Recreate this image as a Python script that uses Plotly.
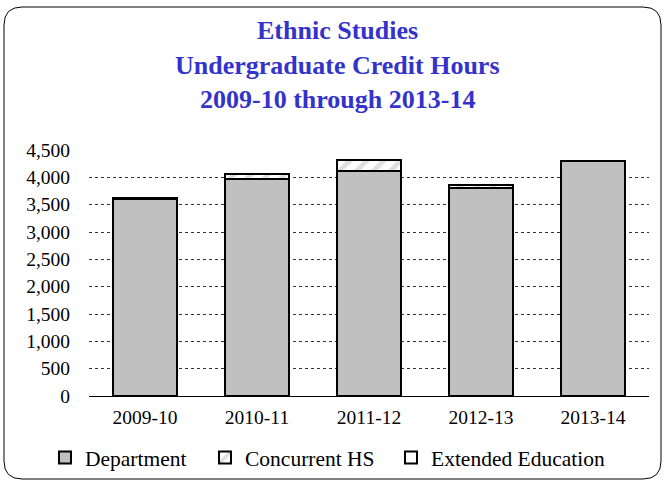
import plotly.graph_objects as go

# academic years on the x axis
years = ["2009-10", "2010-11", "2011-12", "2012-13", "2013-14"]

# credit hours by source (stacked)
department = [3600, 3965, 4115, 3810, 4295]
concurrent_hs = [15, 100, 200, 50, 0]
extended_ed = [0, 0, 0, 0, 0]

y_ticks = [0, 500, 1000, 1500, 2000, 2500, 3000, 3500, 4000, 4500]

serif = "Liberation Serif, Times New Roman, serif"

fig = go.Figure()
fig.add_trace(go.Bar(
    x=years, y=department, name="Department", legend="legend",
    marker=dict(color="#C0C0C0", line=dict(color="black", width=2)),
))
fig.add_trace(go.Bar(
    x=years, y=concurrent_hs, name="Concurrent HS", legend="legend2",
    marker=dict(color="white", line=dict(color="black", width=2),
                pattern=dict(shape="/", fgcolor="#C0C0C0", bgcolor="white",
                             size=12, solidity=0.4)),
))
fig.add_trace(go.Bar(
    x=years, y=extended_ed, name="Extended Education", legend="legend3",
    marker=dict(color="white", line=dict(color="black", width=2)),
))

# outer rounded frame, in paper coords (plot area is 560x246 px)
def px2x(p):
    return (p - 89) / 560

def py2y(p):
    return (396 - p) / 246

x0, x1, y0, y1, r = 4, 661, 7, 479, 18
frame = (
    f"M {px2x(x0 + r)},{py2y(y0)} L {px2x(x1 - r)},{py2y(y0)} "
    f"Q {px2x(x1)},{py2y(y0)} {px2x(x1)},{py2y(y0 + r)} "
    f"L {px2x(x1)},{py2y(y1 - r)} Q {px2x(x1)},{py2y(y1)} {px2x(x1 - r)},{py2y(y1)} "
    f"L {px2x(x0 + r)},{py2y(y1)} Q {px2x(x0)},{py2y(y1)} {px2x(x0)},{py2y(y1 - r)} "
    f"L {px2x(x0)},{py2y(y0 + r)} Q {px2x(x0)},{py2y(y0)} {px2x(x0 + r)},{py2y(y0)} Z"
)

def legend_at(px):
    return dict(orientation="h", x=px2x(px), xanchor="left", y=py2y(437), yanchor="top",
                bgcolor="rgba(0,0,0,0)", font=dict(family=serif, size=21.5))

fig.update_layout(
    width=664, height=481,
    margin=dict(l=89, r=15, t=150, b=85, autoexpand=False),
    paper_bgcolor="white", plot_bgcolor="white",
    barmode="stack", bargap=0.43,
    font=dict(family=serif, size=19.5, color="black"),
    shapes=[dict(type="path", path=frame, xref="paper", yref="paper",
                 line=dict(color="black", width=1), layer="below")],
    legend=legend_at(45),
    legend2=legend_at(205),
    legend3=legend_at(391),
    showlegend=True,
)

titles = ["Ethnic Studies", "Undergraduate Credit Hours", "2009-10 through 2013-14"]
title_y = [30, 65, 99]
for t, ty in zip(titles, title_y):
    fig.add_annotation(text=f"<b>{t}</b>", x=px2x(337), y=py2y(ty), xref="paper", yref="paper",
                       xanchor="center", yanchor="middle", showarrow=False,
                       font=dict(family=serif, size=26, color="#3333CC"))

fig.update_yaxes(range=[0, 4500], tickvals=y_ticks, tickformat=",",
                 showgrid=True, gridcolor="#333333", griddash="dot", gridwidth=1,
                 zeroline=False, ticks="", ticklabelstandoff=18, automargin=False,
                 tickfont=dict(size=19.5))
fig.update_xaxes(type="category", showline=True, linecolor="black", linewidth=1, ticks="",
                 ticklabelstandoff=4, automargin=False, tickfont=dict(size=19.5))

# drop the browser's default body margin so the figure sits at the page corner
fig.write_html("out.html", config={"displayModeBar": False},
               post_script="document.body.style.margin='0';")
